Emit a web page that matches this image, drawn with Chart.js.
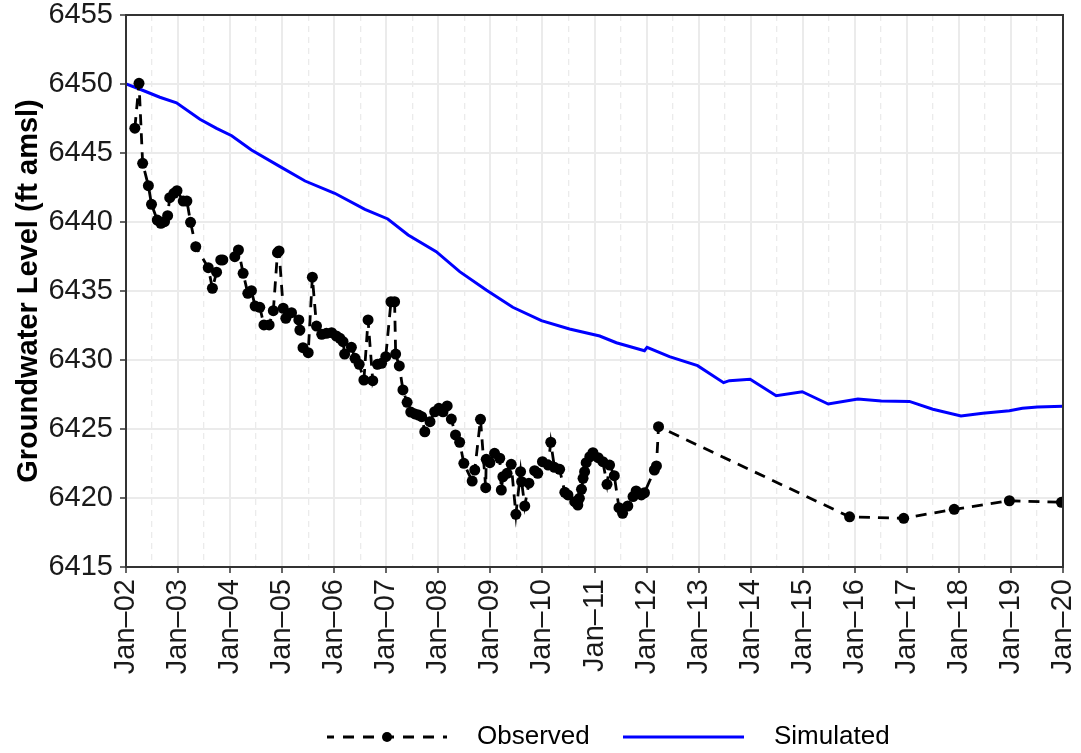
<!DOCTYPE html>
<html>
<head>
<meta charset="utf-8">
<script src="https://cdn.jsdelivr.net/npm/chart.js@4.4.1/dist/chart.umd.min.js"></script>
<style>
  html, body { margin: 0; padding: 0; background: #fff; }
</style>
</head>
<body>
<canvas id="chart" width="1081" height="753"></canvas>
<script>
// observed heads (decimal year, ft amsl)
const obsYear = [
  2002.17, 2002.25, 2002.32, 2002.43, 2002.49, 2002.60, 2002.67, 2002.74, 2002.80, 2002.84,
  2002.92, 2002.98, 2003.10, 2003.17, 2003.24, 2003.34, 2003.58, 2003.66, 2003.74, 2003.82,
  2003.86, 2004.09, 2004.16, 2004.25, 2004.34, 2004.41, 2004.48, 2004.57, 2004.65, 2004.75,
  2004.83, 2004.91, 2004.94, 2005.02, 2005.07, 2005.18, 2005.32, 2005.34, 2005.40, 2005.50,
  2005.58, 2005.66, 2005.76, 2005.85, 2005.95, 2006.04, 2006.11, 2006.17, 2006.20, 2006.33,
  2006.40, 2006.48, 2006.57, 2006.65, 2006.74, 2006.83, 2006.91, 2006.99, 2007.09, 2007.16,
  2007.18, 2007.25, 2007.32, 2007.40, 2007.47, 2007.55, 2007.62, 2007.68, 2007.74, 2007.84,
  2007.93, 2008.01, 2008.09, 2008.17, 2008.25, 2008.33, 2008.41, 2008.49, 2008.65, 2008.70,
  2008.81, 2008.91, 2008.92, 2008.99, 2009.08, 2009.18, 2009.21, 2009.24, 2009.32, 2009.40,
  2009.49, 2009.58, 2009.60, 2009.66, 2009.74, 2009.85, 2009.91, 2010.00, 2010.11, 2010.16,
  2010.23, 2010.33, 2010.43, 2010.49, 2010.62, 2010.68, 2010.71, 2010.75, 2010.78, 2010.81,
  2010.84, 2010.91, 2010.97, 2011.07, 2011.16, 2011.24, 2011.29, 2011.38, 2011.47, 2011.54,
  2011.64, 2011.74, 2011.80, 2011.90, 2011.96, 2012.15, 2012.19, 2012.23, 2015.90, 2016.94,
  2017.91, 2018.97, 2019.97
];
const obsLevel = [
  6446.80, 6450.05, 6444.25, 6442.63, 6441.28, 6440.14, 6439.91, 6440.02, 6440.46, 6441.76,
  6442.08, 6442.27, 6441.52, 6441.52, 6439.98, 6438.21, 6436.69, 6435.20, 6436.36, 6437.25,
  6437.25, 6437.49, 6437.97, 6436.28, 6434.83, 6435.02, 6433.91, 6433.82, 6432.54, 6432.54,
  6433.57, 6437.78, 6437.90, 6433.75, 6433.02, 6433.43, 6432.90, 6432.17, 6430.89, 6430.53,
  6436.00, 6432.46, 6431.86, 6431.93, 6431.98, 6431.74, 6431.57, 6431.33, 6430.43, 6430.92,
  6430.12, 6429.69, 6428.55, 6432.90, 6428.50, 6429.69, 6429.76, 6430.24, 6434.22, 6434.22,
  6430.43, 6429.57, 6427.83, 6426.93, 6426.23, 6426.09, 6426.01, 6425.89, 6424.80, 6425.53,
  6426.25, 6426.50, 6426.25, 6426.67, 6425.72, 6424.57, 6424.04, 6422.51, 6421.23, 6422.03,
  6425.70, 6420.75, 6422.80, 6422.56, 6423.24, 6422.88, 6420.58, 6421.54, 6421.79, 6422.44,
  6418.82, 6421.91, 6421.18, 6419.42, 6421.07, 6421.98, 6421.79, 6422.63, 6422.39, 6424.04,
  6422.22, 6422.08, 6420.41, 6420.22, 6419.73, 6419.49, 6419.98, 6420.63, 6421.43, 6421.91,
  6422.56, 6422.99, 6423.28, 6422.92, 6422.63, 6420.99, 6422.39, 6421.62, 6419.30, 6418.89,
  6419.42, 6420.10, 6420.51, 6420.22, 6420.38, 6422.03, 6422.32, 6425.17, 6418.64, 6418.53,
  6419.18, 6419.80, 6419.69
];

// simulated heads
const simYear = [
  2002.00, 2002.27, 2002.65, 2002.97, 2003.42, 2003.74, 2004.03, 2004.41, 2004.96, 2005.44,
  2006.01, 2006.59, 2007.03, 2007.42, 2007.96, 2008.41, 2008.92, 2009.43, 2009.98, 2010.52,
  2011.10, 2011.42, 2011.96, 2012.01, 2012.44, 2012.98, 2013.48, 2013.59, 2013.99, 2014.49,
  2014.99, 2015.49, 2016.06, 2016.51, 2017.05, 2017.50, 2018.04, 2018.46, 2018.97, 2019.22,
  2019.51, 2020.00
];
const simLevel = [
  6450.00, 6449.62, 6449.04, 6448.64, 6447.44, 6446.79, 6446.25, 6445.22, 6444.01, 6442.97,
  6442.08, 6440.92, 6440.22, 6439.06, 6437.85, 6436.40, 6435.07, 6433.82, 6432.85, 6432.25,
  6431.74, 6431.25, 6430.67, 6430.92, 6430.24, 6429.59, 6428.36, 6428.50, 6428.60, 6427.41,
  6427.70, 6426.81, 6427.17, 6427.03, 6427.00, 6426.43, 6425.94, 6426.14, 6426.33, 6426.50,
  6426.59, 6426.65
];

const seriesNames = ['Observed', 'Simulated'];
const yTicks = [6415, 6455, 5];   // min, max, step
const xTicks = [2002, 2020];      // Jan-02 .. Jan-20

Chart.defaults.font.family = '"Liberation Sans", Arial, sans-serif';
Chart.defaults.color = '#1a1a1a';

const isYear = ctx => ctx.tick && Number.isInteger(ctx.tick.value);

// panel box + legend under the axis labels
const extras = {
  id: 'extras',
  afterDatasetsDraw(chart) {
    const { ctx, chartArea: a } = chart;
    ctx.save();
    ctx.strokeStyle = '#333';
    ctx.lineWidth = 2;
    ctx.strokeRect(a.left, a.top, a.right - a.left, a.bottom - a.top);
    ctx.restore();
  },
  afterDraw(chart) {
    const c = chart.ctx;
    const y = 737;
    c.save();
    c.strokeStyle = '#000';
    c.fillStyle = '#000';
    c.lineWidth = 2.8;
    c.setLineDash([11, 9]);
    c.lineDashOffset = 4;
    c.beginPath(); c.moveTo(327, y); c.lineTo(447, y); c.stroke();
    c.setLineDash([]);
    c.beginPath(); c.arc(387, y, 5, 0, Math.PI * 2); c.fill();

    c.strokeStyle = '#0000ff';
    c.lineWidth = 3;
    c.beginPath(); c.moveTo(623, y); c.lineTo(744, y); c.stroke();

    c.font = '26px "Liberation Sans", Arial, sans-serif';
    c.textBaseline = 'middle';
    c.fillStyle = '#000';
    c.fillText(seriesNames[0], 477, y);
    c.fillText(seriesNames[1], 774, y);
    c.restore();
  }
};

new Chart(document.getElementById('chart'), {
  type: 'line',
  data: {
    datasets: [
      {
        label: seriesNames[0],
        data: obsYear.map((x, i) => ({ x, y: obsLevel[i] })),
        borderColor: '#000',
        backgroundColor: '#000',
        borderWidth: 2.8,
        borderDash: [11, 8],
        pointRadius: 5.5,
        pointBorderWidth: 0,
        pointBackgroundColor: '#000',
        tension: 0
      },
      {
        label: seriesNames[1],
        data: simYear.map((x, i) => ({ x, y: simLevel[i] })),
        borderColor: '#0000ff',
        borderWidth: 3,
        pointRadius: 0,
        tension: 0
      }
    ]
  },
  options: {
    responsive: false,
    animation: false,
    events: [],
    layout: { padding: { left: 0, top: 15, right: 18, bottom: 0 } },
    plugins: { legend: { display: false }, tooltip: { enabled: false } },
    scales: {
      x: {
        type: 'linear',
        min: xTicks[0],
        max: xTicks[1],
        ticks: {
          stepSize: 0.5,
          autoSkip: false,
          maxRotation: 90,
          minRotation: 90,
          padding: 6,
          color: '#1a1a1a',
          font: { size: 29, lineHeight: 1 },
          callback: v => Number.isInteger(v) ? 'Jan\u2013' + String(v % 100).padStart(2, '0') : ''
        },
        grid: {
          color: '#ebebeb',
          lineWidth: ctx => isYear(ctx) ? 2 : 1.3,
          tickColor: ctx => isYear(ctx) ? '#333' : 'rgba(0,0,0,0)',
          tickLength: 6,
          tickWidth: 1.5
        },
        border: { color: '#333', width: 2, dash: ctx => (ctx.tick && !Number.isInteger(ctx.tick.value)) ? [6, 5] : [] },
        afterFit: s => { s.height = 186; s.paddingLeft = 0; s.paddingRight = 0; }
      },
      y: {
        min: yTicks[0],
        max: yTicks[1],
        ticks: {
          stepSize: yTicks[2],
          padding: 7,
          color: '#1a1a1a',
          font: { size: 29, lineHeight: 1 },
          callback: v => String(v)
        },
        grid: { color: '#ebebeb', lineWidth: 2, tickColor: '#333', tickLength: 6, tickWidth: 1.5 },
        border: { color: '#333', width: 2 },
        title: {
          display: true,
          text: 'Groundwater Level (ft amsl)',
          color: '#000',
          font: { size: 29, weight: 'bold' },
          padding: { top: 12, bottom: 0 }
        },
        afterFit: s => { s.width = 126; s.paddingTop = 0; s.paddingBottom = 0; }
      }
    }
  },
  plugins: [extras]
});
</script>
</body>
</html>
